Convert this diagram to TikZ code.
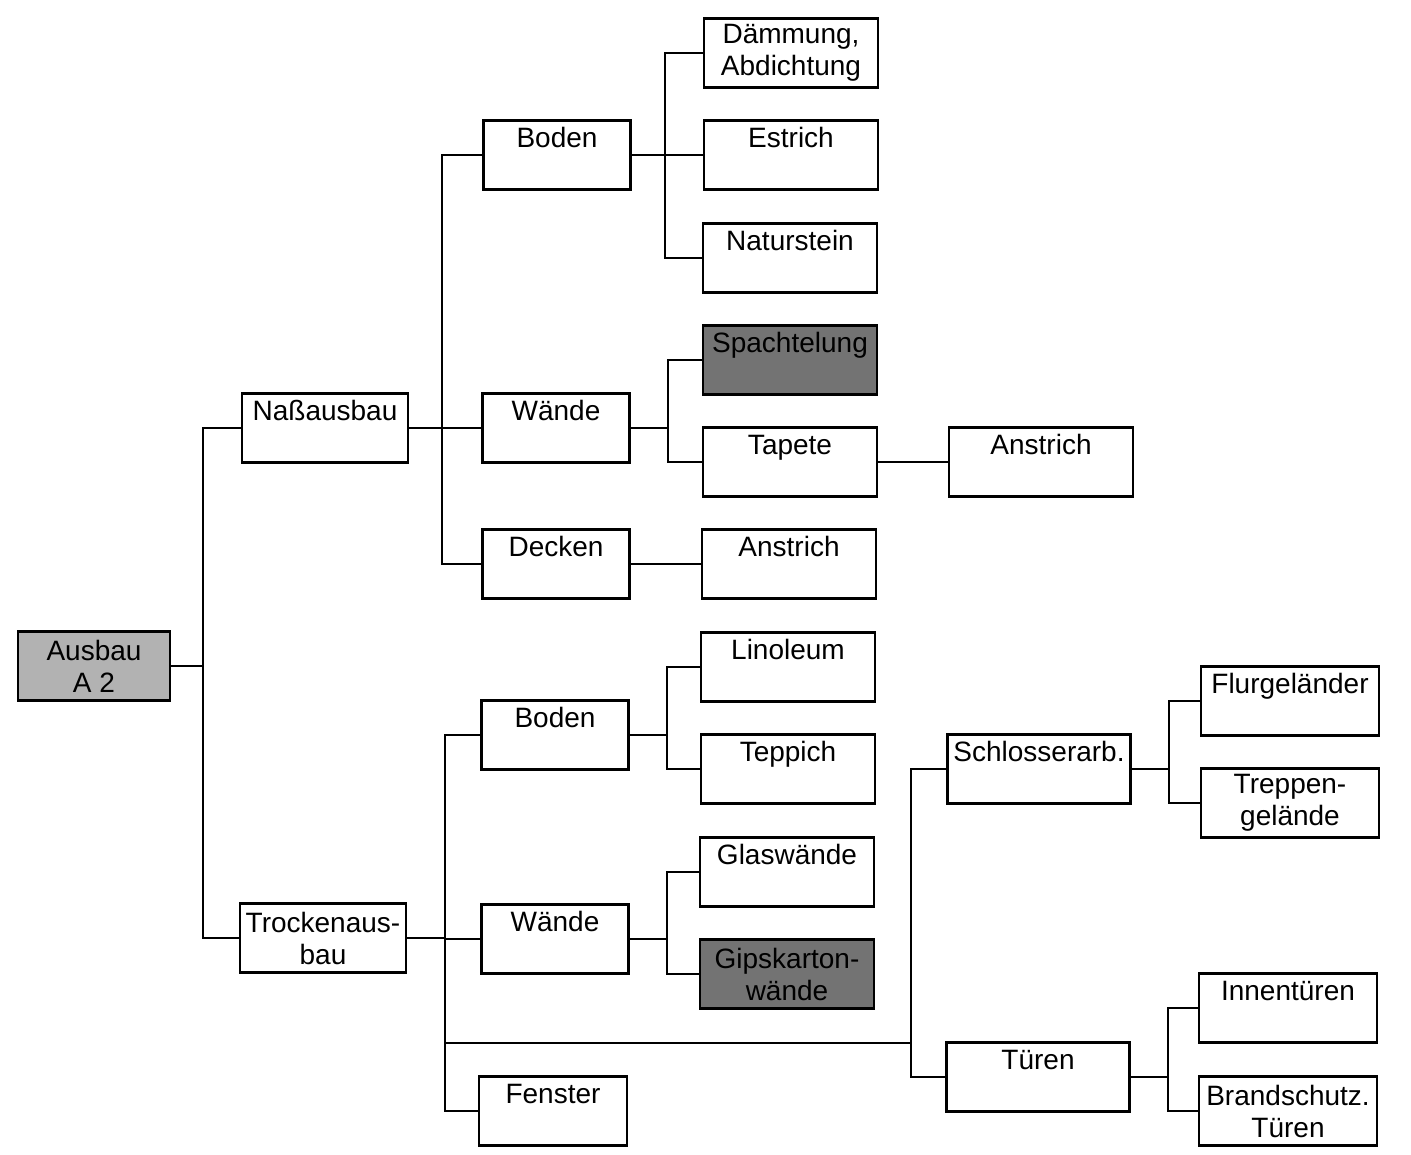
\documentclass[tikz,border=0pt]{standalone}
\usepackage{fontspec}
\setmainfont{Liberation Sans}
\tikzset{
	kasten/.style={draw, line width=2.4pt, inner sep=0pt, minimum height=69pt, text height=27pt, text depth=42pt, font=\fontsize{28}{32}\selectfont},
	zweizeilig/.style={kasten, align=center, text height=, text depth=},
	grau/.style={fill=black!30},
	dunkel/.style={fill=black!55},
	linie/.style={line width=2.4pt}
}
\begin{document}
\begin{tikzpicture}[x=1pt,y=-1pt]
		\useasboundingbox (0,0) rectangle (1411,1155);
		% Stufe 1 und 2
		\node[zweizeilig,grau,minimum width=152pt] (ausbau) at (94,666) {Ausbau\\A 2};
		\node[kasten,minimum width=166pt] (nass) at (325,428) {Naßausbau};
		\node[zweizeilig,minimum width=166pt] (trocken) at (323,938) {Trockenaus-\\bau};
		% Naßausbau
		\node[kasten,minimum width=147pt] (nboden) at (557,155) {Boden};
		\node[kasten,minimum width=147pt] (nwaende) at (556,428) {Wände};
		\node[kasten,minimum width=147pt] (decken) at (556,564) {Decken};
		\node[zweizeilig,minimum width=174pt] (daemmung) at (791,53) {Dämmung,\\Abdichtung};
		\node[kasten,minimum width=174pt] (estrich) at (791,155) {Estrich};
		\node[kasten,minimum width=174pt] (naturstein) at (790,258) {Naturstein};
		\node[kasten,dunkel,minimum width=174pt] (spachtel) at (790,360) {Spachtelung};
		\node[kasten,minimum width=174pt] (tapete) at (790,462) {Tapete};
		\node[kasten,minimum width=184pt] (anstrichT) at (1041,462) {Anstrich};
		\node[kasten,minimum width=174pt] (anstrichD) at (789,564) {Anstrich};
		% Trockenausbau
		\node[kasten,minimum width=147pt] (tboden) at (555,735) {Boden};
		\node[kasten,minimum width=147pt] (twaende) at (555,939) {Wände};
		\node[kasten,minimum width=148pt] (fenster) at (553,1111) {Fenster};
		\node[kasten,minimum width=174pt] (linoleum) at (788,667) {Linoleum};
		\node[kasten,minimum width=174pt] (teppich) at (788,769) {Teppich};
		\node[kasten,minimum width=174pt] (glas) at (787,872) {Glaswände};
		\node[zweizeilig,dunkel,minimum width=174pt] (gips) at (787,974) {Gipskarton-\\wände};
		\node[kasten,minimum width=183pt] (schloss) at (1039,769) {Schlosserarb.};
		\node[kasten,minimum width=183pt] (tueren) at (1038,1077) {Türen};
		\node[kasten,minimum width=178pt] (flur) at (1290,701) {Flurgeländer};
		\node[zweizeilig,minimum width=178pt] (treppe) at (1290,803) {Treppen-\\gelände};
		\node[kasten,minimum width=178pt] (innen) at (1288,1008) {Innentüren};
		\node[zweizeilig,minimum width=178pt] (brand) at (1288,1111) {Brandschutz.\\Türen};
		% Verbindungen
		\draw[linie] (ausbau.east) -- ++(32,0) coordinate (ja) |- (nass.west);
		\draw[linie] (ja) |- (trocken.west);
		\draw[linie] (nass.east) -- ++(33,0) coordinate (jn) |- (nboden.west);
		\draw[linie] (jn) -- (nwaende.west);
		\draw[linie] (jn) |- (decken.west);
		\draw[linie] (nboden.east) -- ++(33,0) coordinate (jb) |- (daemmung.west);
		\draw[linie] (jb) -- (estrich.west);
		\draw[linie] (jb) |- (naturstein.west);
		\draw[linie] (nwaende.east) -- ++(37,0) coordinate (jw) |- (spachtel.west);
		\draw[linie] (jw) |- (tapete.west);
		\draw[linie] (tapete.east) -- (anstrichT.west);
		\draw[linie] (decken.east) -- (anstrichD.west);
		\draw[linie] (trocken.east) -- ++(38,0) coordinate (jt) |- (tboden.west);
		\draw[linie] (jt) |- (twaende.west);
		\draw[linie] (jt) |- (fenster.west);
		\coordinate (js) at (911,1043);
		\draw[linie] (jt |- js) -- (js);
		\draw[linie] (schloss.west) -| (js) |- (tueren.west);
		\draw[linie] (tboden.east) -- ++(37,0) coordinate (jtb) |- (linoleum.west);
		\draw[linie] (jtb) |- (teppich.west);
		\draw[linie] (twaende.east) -- ++(37,0) coordinate (jtw) |- (glas.west);
		\draw[linie] (jtw) |- (gips.west);
		\draw[linie] (schloss.east) -- ++(37,0) coordinate (jsa) |- (flur.west);
		\draw[linie] (jsa) |- (treppe.west);
		\draw[linie] (tueren.east) -- ++(37,0) coordinate (jtu) |- (innen.west);
		\draw[linie] (jtu) |- (brand.west);
	\end{tikzpicture}
\end{document}
